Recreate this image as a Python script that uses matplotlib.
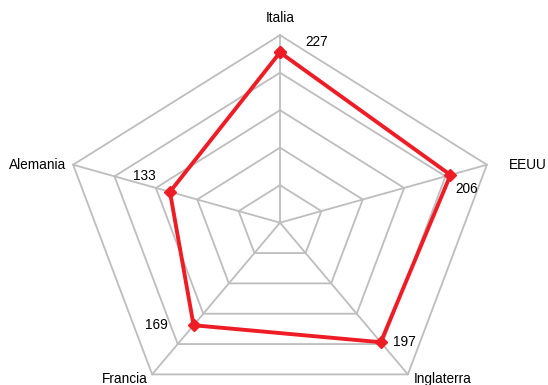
import numpy as np
import matplotlib
matplotlib.use("Agg")
import matplotlib.pyplot as plt

plt.rcParams['font.family'] = ['Liberation Sans', 'DejaVu Sans']

# data
paises = ['Italia', 'EEUU', 'Inglaterra', 'Francia', 'Alemania']
valores = [227, 206, 197, 169, 133]
escala_max = 250
anillos = [50, 100, 150, 200, 250]

ang = np.radians(90 - 72 * np.arange(len(paises)))

fig = plt.figure(figsize=(5.48, 3.85), dpi=100)
ax = fig.add_axes([0, 0, 1, 1])
ax.set_xlim(-321.8, 308.0)
ax.set_ylim(-216.4, 296.9)
ax.axis('off')

grid_c = '#bdbdbd'
cerrado = np.append(ang, ang[0])
for r in anillos:
    ax.plot(r * np.cos(cerrado), r * np.sin(cerrado), color=grid_c, lw=1.3, zorder=1)
for a in ang:
    ax.plot([0, escala_max * np.cos(a)], [0, escala_max * np.sin(a)], color=grid_c, lw=1.3, zorder=1)

v = np.append(valores, valores[0])
ax.plot(v * np.cos(cerrado), v * np.sin(cerrado), color='#ee1c25', lw=2.8,
        marker='D', ms=6, zorder=3, solid_joinstyle='round')

# value labels
offs_val = [(37, 10, 'center'), (16, -14, 'center'), (24, 0, 'center'),
            (-37, 0, 'center'), (-26, 16, 'center')]
for val, a, (dx, dy, ha) in zip(valores, ang, offs_val):
    ax.annotate(str(val), (val * np.cos(a), val * np.sin(a)), xytext=(dx, dy),
                textcoords='offset pixels', ha=ha, va='center', fontsize=9.8)

# category labels
offs_cat = [(0, 17, 'center'), (22, 0, 'left'), (6, -5, 'left'),
            (-4, -5, 'right'), (-7, 0, 'right')]
for p, a, (dx, dy, ha) in zip(paises, ang, offs_cat):
    ax.annotate(p, (escala_max * np.cos(a), escala_max * np.sin(a)), xytext=(dx, dy),
                textcoords='offset pixels', ha=ha, va='center', fontsize=9.8,
                annotation_clip=False)

fig.savefig('out.png', dpi=100)
